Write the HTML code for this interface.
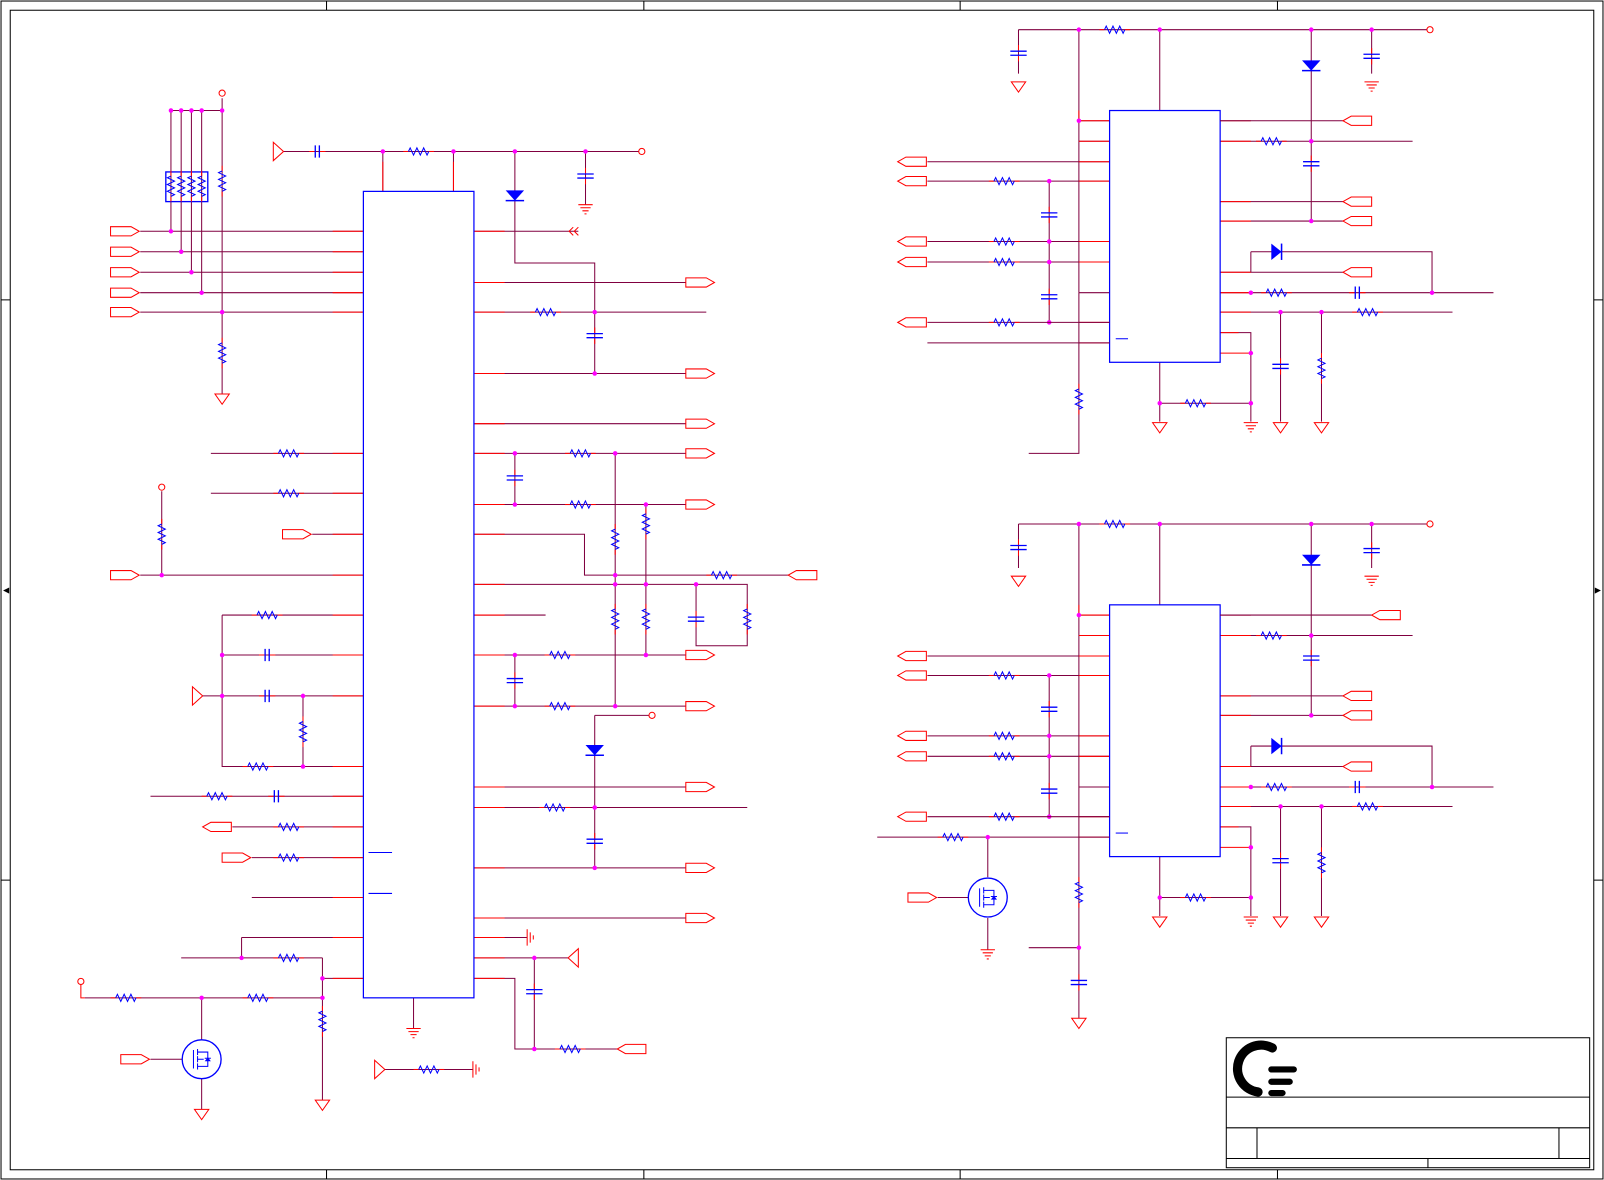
<!DOCTYPE html>
<html><head><meta charset="utf-8"><style>html,body{margin:0;padding:0;background:#fff}svg{display:block}</style></head>
<body>
<svg width="1604" height="1180" viewBox="0 0 1567 1153" preserveAspectRatio="none" xmlns="http://www.w3.org/2000/svg" font-family="Liberation Sans, sans-serif">
<defs>
<g id="rh"><path d="M-15,0H-10" stroke="#f00"/><path d="M10,0H15" stroke="#f00"/><path d="M-10,0l1.7,-3.5l3.3,7l3.3,-7l3.3,7l3.3,-7l3.3,7l1.7,-3.5" stroke="#00f" fill="none"/></g>
<g id="rv"><path d="M0,-15V-10M0,10V15" stroke="#f00"/><path d="M0,-10l-3.5,1.7l7,3.3l-7,3.3l7,3.3l-7,3.3l7,3.3l-3.5,1.7" stroke="#00f" fill="none"/></g>
<g id="ch"><path d="M-8,0H-2M2,0H8" stroke="#f00"/><path d="M-2,-6V6M2,-6V6" stroke="#00f" stroke-width="1.3"/></g>
<g id="cv"><path d="M0,-8V-2M0,2V8" stroke="#f00"/><path d="M-8,-2H8M-8,2H8" stroke="#00f" stroke-width="1.3"/></g>
<polygon id="pr" points="0,-4.5 20,-4.5 28,0 20,4.5 0,4.5" fill="#fff" stroke="#f00"/>
<polygon id="pl" points="28,-4.5 8,-4.5 0,0 8,4.5 28,4.5" fill="#fff" stroke="#f00"/>
<g id="gd"><path d="M-7,0H7L0,10Z" fill="#fff" stroke="#f00"/></g>
<g id="ge"><path d="M-7,0H7M-5,3H5M-3,6H3M-1,9H1" stroke="#f00"/></g>
<g id="dd"><path d="M-9,-5H9L0,5Z" fill="#00f"/><path d="M-9,5H9" stroke="#00f" stroke-width="1.5"/></g>
<g id="dr"><path d="M-5,-8V8L5,0Z" fill="#00f"/><path d="M5,-8V8" stroke="#00f" stroke-width="1.5"/></g>
<circle id="j" r="2.2" fill="#f0f"/>
<g id="q"><circle r="19" fill="#fff" stroke="#00f" stroke-width="1.3"/><path d="M-8,-9V9M-4,-10V-4M-4,-3V3M-4,4V10M-4,-7H6V-2M-4,7H6V2M-4,0H2M6,-6V6M3,-1H9" stroke="#00f" fill="none"/><path d="M3,2L6,-2L9,2Z" fill="#00f"/></g>
</defs>
<rect x="1" y="1" width="1565" height="1151" fill="none" stroke="#000" stroke-width="1"/>
<rect x="10" y="10" width="1547" height="1133" fill="none" stroke="#000" stroke-width="1"/>
<path d="M319,1V10M629,1V10M938,1V10M1248,1V10M319,1143V1152M629,1143V1152M938,1143V1152M1248,1143V1152M1,293H10M1,860H10M1557,293H1566M1557,860H1566" stroke="#000"/>
<path d="M3,577l6,-3v6z M1564,577l-6,-3v6z" fill="#000"/>
<g stroke="#000" fill="none">
<rect x="1198" y="1014" width="355" height="127"/>
<path d="M1198,1072H1553M1198,1102H1553M1198,1132H1553M1228,1102V1132M1523,1102V1132M1395,1132V1141"/>
</g>
<path d="M1243,1024 A23,23 0 1 0 1229,1067" fill="none" stroke="#000" stroke-width="9" stroke-linecap="round"/>
<path d="M1242,1045H1264M1242,1057H1260M1242,1068H1253" stroke="#000" stroke-width="6" stroke-linecap="round"/>

<g stroke="#800040" fill="none" stroke-width="1">
<path d="M277,148H627M374,148V187M443,148V187M503,148V257H581V365M572,148V200"/>
<path d="M137,226H355M137,246H355M137,266H355M137,286H355M137,305H355"/>
<path d="M167,226V108H217M177,246V108M187,266V108M197,286V108M217,96V385"/>
<path d="M463,226H565M463,276H670M463,305H690M463,365H670M463,414H670M463,443H670M463,493H670M503,443V493"/>
<path d="M463,522H571V562H770M601,443V690M631,493V640M463,571H730V631H680V571"/>
<path d="M463,601H533M463,640H670M463,690H670M503,640V690M581,699H637M581,699V848"/>
<path d="M463,769H670M463,789H730M463,848H670M463,897H670M463,916H515M463,936H555M522,936V1025M463,956H503V1025H603"/>
<path d="M206,443H355M206,482H355M305,522H355M137,562H355M158,480V562"/>
<path d="M217,601H355M217,601V749H355M217,640H355M198,680H355M296,680V749"/>
<path d="M147,778H355M227,808H355M246,838H355M246,877H355M236,916H355M236,916V936M177,936H315M315,936V956H355M315,956V1080"/>
<path d="M83,975H315M197,975V1085M147,1035H178M376,1045H462M404,975V1005"/>
</g>
<g stroke="#f00">
<path d="M325,226H355M325,246H355M325,266H355M325,286H355M325,305H355M325,443H355M325,482H355M325,522H355M325,562H355M325,601H355M325,640H355M325,680H355M325,749H355M325,778H355M325,808H355M325,838H355M325,877H355M325,916H355M325,956H355"/>
<path d="M463,226H493M463,276H493M463,305H493M463,365H493M463,414H493M463,443H493M463,493H493M463,522H493M463,571H493M463,601H493M463,640H493M463,690H493M463,769H493M463,789H493M463,848H493M463,897H493M463,916H493M463,936H493M463,956H493M374,158V187M443,158V187"/>
<path d="M560,222l-4,4l4,4M565,222l-4,4l4,4" fill="none"/>
<path d="M277,148l-10,-9v18z" fill="#fff"/>
<path d="M198,680l-10,-9v18z" fill="#fff"/>
<path d="M376,1045l-10,-9v18z" fill="#fff"/>
<path d="M555,936l10,-9v18z" fill="#fff"/>
</g>
<rect x="355" y="187" width="108" height="788" fill="none" stroke="#00f" stroke-width="1.2"/>
<path d="M360,833H383M360,873H383" stroke="#00f"/>
<circle cx="627" cy="148" r="3" fill="#fff" stroke="#f00"/>
<circle cx="217" cy="91" r="3" fill="#fff" stroke="#f00"/>
<circle cx="158" cy="476" r="3" fill="#fff" stroke="#f00"/>
<circle cx="637" cy="699" r="3" fill="#fff" stroke="#f00"/>
<circle cx="79" cy="959" r="3" fill="#fff" stroke="#f00"/>
<path d="M79,962V975H83" stroke="#f00" fill="none"/>
<rect x="162" y="168" width="41" height="29" fill="none" stroke="#00f" stroke-width="1.3"/>
<use href="#rv" x="167" y="182"/><use href="#rv" x="177" y="182"/><use href="#rv" x="187" y="182"/><use href="#rv" x="197" y="182"/>
<use href="#rv" x="217" y="177"/><use href="#rv" x="217" y="345"/>
<use href="#gd" x="217" y="385"/>
<use href="#pr" x="108" y="226"/><use href="#pr" x="108" y="246"/><use href="#pr" x="108" y="266"/><use href="#pr" x="108" y="286"/><use href="#pr" x="108" y="305"/>
<use href="#ch" x="310" y="148"/><use href="#rh" x="409" y="148"/>
<use href="#dd" x="503" y="191"/>
<use href="#cv" x="572" y="172"/><use href="#ge" x="572" y="200"/>
<use href="#pr" x="670" y="276"/><use href="#rh" x="533" y="305"/><use href="#cv" x="581" y="328"/>
<use href="#pr" x="670" y="365"/><use href="#pr" x="670" y="414"/>
<use href="#pr" x="670" y="443"/><use href="#rh" x="567" y="443"/>
<use href="#pr" x="670" y="493"/><use href="#rh" x="567" y="493"/><use href="#cv" x="503" y="467"/>
<use href="#pl" x="770" y="562"/><use href="#rh" x="705" y="562"/>
<use href="#rv" x="601" y="527"/><use href="#rv" x="631" y="512"/><use href="#rv" x="601" y="605"/><use href="#rv" x="631" y="605"/>
<use href="#cv" x="680" y="605"/><use href="#rv" x="730" y="605"/>
<use href="#pr" x="670" y="640"/><use href="#rh" x="547" y="640"/>
<use href="#pr" x="670" y="690"/><use href="#rh" x="547" y="690"/><use href="#cv" x="503" y="665"/>
<use href="#dd" x="581" y="733"/>
<use href="#pr" x="670" y="769"/><use href="#rh" x="542" y="789"/><use href="#cv" x="581" y="822"/>
<use href="#pr" x="670" y="848"/><use href="#pr" x="670" y="897"/>
<path d="M515,908V924M518,911V921M521,914V918" stroke="#f00"/>
<use href="#cv" x="522" y="969"/><use href="#rh" x="557" y="1025"/><use href="#pl" x="603" y="1025"/>
<use href="#rh" x="282" y="443"/><use href="#rh" x="282" y="482"/>
<use href="#pr" x="276" y="522"/><use href="#pr" x="108" y="562"/><use href="#rv" x="158" y="522"/>
<use href="#rh" x="261" y="601"/><use href="#ch" x="261" y="640"/><use href="#ch" x="261" y="680"/>
<use href="#rv" x="296" y="715"/><use href="#rh" x="252" y="749"/>
<use href="#rh" x="212" y="778"/><use href="#ch" x="270" y="778"/>
<use href="#pl" x="198" y="808"/><use href="#rh" x="282" y="808"/>
<use href="#pr" x="217" y="838"/><use href="#rh" x="282" y="838"/>
<use href="#rh" x="282" y="936"/><use href="#rv" x="315" y="998"/><use href="#gd" x="315" y="1075"/>
<use href="#rh" x="123" y="975"/><use href="#rh" x="252" y="975"/>
<use href="#q" x="197" y="1035"/><use href="#pr" x="118" y="1035"/><use href="#gd" x="197" y="1084"/>
<use href="#ge" x="404" y="1005"/>
<use href="#rh" x="419" y="1045"/>
<path d="M462,1037V1053M465,1040V1050M468,1043V1047" stroke="#f00"/>
<g>
<use href="#j" x="167" y="226"/><use href="#j" x="177" y="246"/><use href="#j" x="187" y="266"/><use href="#j" x="197" y="286"/><use href="#j" x="217" y="305"/>
<use href="#j" x="167" y="108"/><use href="#j" x="177" y="108"/><use href="#j" x="187" y="108"/><use href="#j" x="197" y="108"/><use href="#j" x="217" y="108"/>
<use href="#j" x="374" y="148"/><use href="#j" x="443" y="148"/><use href="#j" x="503" y="148"/><use href="#j" x="572" y="148"/>
<use href="#j" x="581" y="305"/><use href="#j" x="581" y="365"/>
<use href="#j" x="503" y="443"/><use href="#j" x="601" y="443"/><use href="#j" x="503" y="493"/><use href="#j" x="631" y="493"/>
<use href="#j" x="601" y="562"/><use href="#j" x="601" y="571"/><use href="#j" x="631" y="571"/><use href="#j" x="680" y="571"/>
<use href="#j" x="503" y="640"/><use href="#j" x="631" y="640"/><use href="#j" x="503" y="690"/><use href="#j" x="601" y="690"/>
<use href="#j" x="581" y="789"/><use href="#j" x="581" y="848"/><use href="#j" x="522" y="936"/><use href="#j" x="522" y="1025"/>
<use href="#j" x="158" y="562"/><use href="#j" x="217" y="640"/><use href="#j" x="217" y="680"/><use href="#j" x="296" y="680"/><use href="#j" x="296" y="749"/>
<use href="#j" x="236" y="936"/><use href="#j" x="315" y="956"/><use href="#j" x="197" y="975"/><use href="#j" x="315" y="975"/>
</g>

<g id="blk">
<g stroke="#800040" fill="none">
<path d="M995,29H1394M995,29V72M1133,29V108M1054,29V286M1054,118H1084M1054,138H1084M1281,29V216M1340,29V72"/>
<path d="M1192,138H1380M1192,197H1312M1192,216H1312M1222,246H1399V286M1222,246V266M1192,266H1312M1192,286H1459M1192,305H1419M1251,305V412M1291,305V412"/>
<path d="M1192,325H1222V412M1133,354V412M1133,394H1222"/>
<path d="M906,158H1084M906,177H1084M906,236H1084M906,256H1084M1025,177V315M1054,286H1084"/>
</g>
<g stroke="#f00"><path d="M1054,108V118M1192,118H1222M1192,138H1222M1192,197H1222M1192,216H1222M1192,266H1222M1192,286H1222M1192,305H1222M1192,325H1210M1192,345H1222M1054,138H1084M1054,118H1084M1054,158H1084M1054,177H1084M1054,236H1084M1054,256H1084M1054,315H1084M1054,335H1084"/></g>
<rect x="1084" y="108" width="108" height="246" fill="none" stroke="#00f" stroke-width="1.2"/>
<path d="M1090,331H1102" stroke="#00f"/>
<circle cx="1397" cy="29" r="3" fill="#fff" stroke="#f00"/>
<use href="#rh" x="1089" y="29"/>
<use href="#cv" x="995" y="52"/><use href="#gd" x="995" y="80"/>
<use href="#dd" x="1281" y="64"/><use href="#cv" x="1281" y="160"/>
<use href="#cv" x="1340" y="55"/><use href="#ge" x="1340" y="80"/>
<use href="#rh" x="1242" y="138"/>
<use href="#pl" x="1312" y="197"/><use href="#pl" x="1312" y="216"/><use href="#pl" x="1312" y="266"/>
<use href="#dr" x="1247" y="246"/>
<use href="#rh" x="1247" y="286"/><use href="#ch" x="1326" y="286"/>
<use href="#rh" x="1336" y="305"/>
<use href="#cv" x="1251" y="358"/><use href="#gd" x="1251" y="413"/>
<use href="#rv" x="1291" y="360"/><use href="#gd" x="1291" y="413"/>
<use href="#rh" x="1168" y="394"/><use href="#gd" x="1133" y="413"/><use href="#ge" x="1222" y="413"/>
<use href="#pl" x="877" y="158"/><use href="#pl" x="877" y="177"/><use href="#pl" x="877" y="236"/><use href="#pl" x="877" y="256"/>
<use href="#rh" x="981" y="177"/><use href="#rh" x="981" y="236"/><use href="#rh" x="981" y="256"/>
<use href="#cv" x="1025" y="210"/><use href="#cv" x="1025" y="290"/>
<use href="#j" x="1054" y="29"/><use href="#j" x="1133" y="29"/><use href="#j" x="1281" y="29"/><use href="#j" x="1340" y="29"/>
<use href="#j" x="1054" y="118"/><use href="#j" x="1281" y="138"/><use href="#j" x="1281" y="216"/>
<use href="#j" x="1222" y="286"/><use href="#j" x="1399" y="286"/><use href="#j" x="1251" y="305"/><use href="#j" x="1291" y="305"/>
<use href="#j" x="1222" y="345"/><use href="#j" x="1133" y="394"/><use href="#j" x="1222" y="394"/>
<use href="#j" x="1025" y="177"/><use href="#j" x="1025" y="236"/><use href="#j" x="1025" y="256"/><use href="#j" x="1025" y="315"/>
</g>
<g stroke="#800040" fill="none"><path d="M1192,118H1312M906,315H1084M906,335H1084M1054,286V443H1005"/></g>
<use href="#pl" x="1312" y="118"/>
<use href="#pl" x="877" y="315"/><use href="#rh" x="981" y="315"/>
<use href="#rv" x="1054" y="390"/>
<use href="#blk" x="0" y="483"/>
<g stroke="#800040" fill="none"><path d="M1192,601H1340M906,798H1084M857,818H1084M965,818V857M965,897V928M916,877H946M1054,769V995M1005,926H1054"/></g>
<use href="#pl" x="1340" y="601"/>
<use href="#pl" x="877" y="798"/><use href="#rh" x="981" y="798"/><use href="#rh" x="931" y="818"/>
<use href="#q" x="965" y="877"/><use href="#pr" x="887" y="877"/><use href="#ge" x="965" y="928"/>
<use href="#rv" x="1054" y="872"/><use href="#cv" x="1054" y="960"/><use href="#gd" x="1054" y="995"/>
<use href="#j" x="965" y="818"/><use href="#j" x="1054" y="926"/>
</svg>
</body></html>
